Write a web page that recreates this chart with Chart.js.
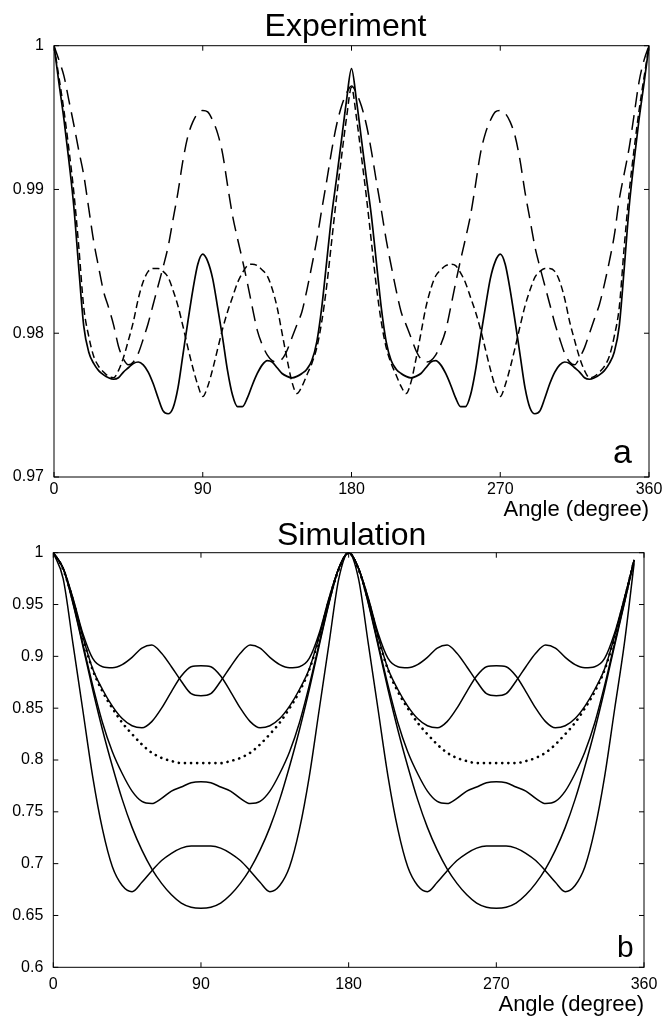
<!DOCTYPE html>
<html>
<head>
<meta charset="utf-8">
<script src="https://cdn.jsdelivr.net/npm/chart.js@4/dist/chart.umd.min.js"></script>
<style>
  body { margin: 0; background: #fff; }
  #wrap { position: relative; width: 667px; height: 1018px; }
  canvas { position: absolute; left: 0; }
</style>
</head>
<body>
<div id="wrap">
  <canvas id="exp" width="667" height="525" style="top:0"></canvas>
  <canvas id="sim" width="667" height="508" style="top:510px"></canvas>
</div>
<script>
// ---- panel a : Experiment ----
const expAngles = [0,3,6,9,12,15,18,21,24,27,30,33,36,39,42,45,48,51,54,57,60,63,66,69,72,75,78,81,84,87,
  90,93,96,99,102,105,108,111,114,117,120,123,126,129,132,135,138,141,144,147,150,153,156,159,162,165,168,171,174,177,
  180,183,186,189,192,195,198,201,204,207,210,213,216,219,222,225,228,231,234,237,240,243,246,249,252,255,258,261,264,267,
  270,273,276,279,282,285,288,291,294,297,300,303,306,309,312,315,318,321,324,327,330,333,336,339,342,345,348,351,354,357,360];

const expSolid = [1.0000,0.9974,0.9949,0.9920,0.9888,0.9845,0.9805,0.9787,0.9779,0.9774,0.9771,0.9769,0.9768,0.9769,0.9773,
  0.9776,0.9779,0.9780,0.9778,0.9773,0.9765,0.9755,0.9746,0.9744,0.9748,0.9762,0.9785,0.9808,0.9830,0.9848,
  0.9855,0.9850,0.9838,0.9818,0.9797,0.9774,0.9757,0.9749,0.9749,0.9755,0.9764,0.9772,0.9778,0.9781,0.9780,
  0.9776,0.9772,0.9770,0.9769,0.9770,0.9772,0.9775,0.9781,0.9794,0.9818,0.9850,0.9882,0.9908,0.9935,0.9962,
  0.9984,
  0.9962,0.9935,0.9908,0.9882,0.9850,0.9818,0.9794,0.9781,0.9775,0.9772,0.9770,0.9769,0.9770,0.9772,0.9776,
  0.9780,0.9781,0.9778,0.9772,0.9764,0.9755,0.9749,0.9749,0.9757,0.9774,0.9797,0.9818,0.9838,0.9850,0.9855,
  0.9848,0.9830,0.9808,0.9785,0.9762,0.9748,0.9744,0.9746,0.9755,0.9765,0.9773,0.9778,0.9780,0.9779,0.9776,
  0.9773,0.9769,0.9768,0.9769,0.9771,0.9774,0.9779,0.9787,0.9805,0.9845,0.9888,0.9920,0.9949,0.9974,1.0000];

const expShort = [1.0000,0.9978,0.9955,0.9928,0.9898,0.9860,0.9818,0.9798,0.9784,0.9777,0.9773,0.9770,0.9769,0.9774,0.9783,
  0.9795,0.9808,0.9824,0.9836,0.9843,0.9845,0.9845,0.9843,0.9839,0.9830,0.9819,0.9805,0.9790,0.9776,0.9764,
  0.9756,0.9763,0.9775,0.9789,0.9803,0.9815,0.9825,0.9835,0.9842,0.9847,0.9848,0.9847,0.9844,0.9840,0.9831,
  0.9818,0.9800,0.9782,0.9766,0.9758,0.9763,0.9771,0.9779,0.9790,0.9808,0.9833,0.9864,0.9895,0.9923,0.9950,
  0.9971,
  0.9950,0.9923,0.9895,0.9864,0.9833,0.9808,0.9790,0.9779,0.9771,0.9763,0.9758,0.9766,0.9782,0.9800,0.9818,
  0.9831,0.9840,0.9844,0.9847,0.9848,0.9847,0.9842,0.9835,0.9825,0.9815,0.9803,0.9789,0.9775,0.9763,0.9756,
  0.9764,0.9776,0.9790,0.9805,0.9819,0.9830,0.9839,0.9843,0.9845,0.9845,0.9843,0.9836,0.9824,0.9808,0.9795,
  0.9783,0.9774,0.9769,0.9770,0.9773,0.9777,0.9784,0.9798,0.9818,0.9860,0.9898,0.9928,0.9955,0.9978,1.0000];

const expLong = [1.0000,0.9990,0.9979,0.9962,0.9945,0.9927,0.9910,0.9887,0.9864,0.9846,0.9829,0.9818,0.9806,0.9791,0.9782,
  0.9778,0.9780,0.9786,0.9796,0.9807,0.9820,0.9833,0.9846,0.9860,0.9879,0.9898,0.9920,0.9937,0.9947,0.9953,
  0.9955,0.9954,0.9948,0.9939,0.9925,0.9903,0.9882,0.9866,0.9851,0.9835,0.9818,0.9802,0.9792,0.9785,0.9781,
  0.9780,0.9782,0.9788,0.9797,0.9806,0.9815,0.9830,0.9847,0.9865,0.9886,0.9906,0.9927,0.9945,0.9958,0.9967,
  0.9972,
  0.9967,0.9958,0.9945,0.9927,0.9906,0.9886,0.9865,0.9847,0.9830,0.9815,0.9806,0.9797,0.9788,0.9782,0.9780,
  0.9781,0.9785,0.9792,0.9802,0.9818,0.9835,0.9851,0.9866,0.9882,0.9903,0.9925,0.9939,0.9948,0.9954,0.9955,
  0.9953,0.9947,0.9937,0.9920,0.9898,0.9879,0.9860,0.9846,0.9833,0.9820,0.9807,0.9796,0.9786,0.9780,0.9778,
  0.9783,0.9790,0.9800,0.9810,0.9820,0.9834,0.9850,0.9868,0.9893,0.9911,0.9929,0.9952,0.9975,0.9990,1.0000];

// ---- panel b : Simulation ----
const simAngles = [0,6,12,18,24,30,36,42,48,54,60,66,72,78,84,90,96,102,108,114,120,126,132,138,144,150,156,162,168,174,
  180,186,192,198,204,210,216,222,228,234,240,246,252,258,264,270,276,282,288,294,300,306,312,318,324,330,336,342,348,354];

const simA = [1.000,0.985,0.956,0.922,0.898,0.890,0.889,0.892,0.899,0.908,0.911,0.903,0.890,0.876,0.864,0.862,
  0.864,0.876,0.890,0.903,0.911,0.908,0.899,0.892,0.889,0.890,0.898,0.922,0.956,0.985,1.000,
  0.985,0.956,0.922,0.898,0.890,0.889,0.892,0.899,0.908,0.911,0.903,0.890,0.876,0.864,0.862,
  0.864,0.876,0.890,0.903,0.911,0.908,0.899,0.892,0.889,0.890,0.898,0.922,0.956,0.993];

const simB = [1.000,0.985,0.955,0.919,0.888,0.868,0.852,0.840,0.833,0.831,0.837,0.850,0.866,0.881,0.890,0.891,
  0.890,0.881,0.866,0.850,0.837,0.831,0.833,0.840,0.852,0.868,0.888,0.919,0.955,0.985,1.000,
  0.985,0.955,0.919,0.888,0.868,0.852,0.840,0.833,0.831,0.837,0.850,0.866,0.881,0.890,0.891,
  0.890,0.881,0.866,0.850,0.837,0.831,0.833,0.840,0.852,0.868,0.888,0.919,0.955,0.993];

const simDot = [1.000,0.984,0.954,0.918,0.887,0.866,0.850,0.836,0.825,0.815,0.807,0.802,0.799,0.797,0.797,0.797,
  0.797,0.797,0.799,0.802,0.807,0.815,0.825,0.836,0.850,0.866,0.887,0.918,0.954,0.984,1.000,
  0.984,0.954,0.918,0.887,0.866,0.850,0.836,0.825,0.815,0.807,0.802,0.799,0.797,0.797,0.797,
  0.797,0.797,0.799,0.802,0.807,0.815,0.825,0.836,0.850,0.866,0.887,0.918,0.954,0.993];

const simC = [1.000,0.985,0.952,0.912,0.872,0.836,0.808,0.787,0.770,0.760,0.758,0.763,0.770,0.774,0.778,0.779,
  0.778,0.774,0.770,0.763,0.758,0.760,0.770,0.787,0.808,0.836,0.872,0.912,0.952,0.985,1.000,
  0.985,0.952,0.912,0.872,0.836,0.808,0.787,0.770,0.760,0.758,0.763,0.770,0.774,0.778,0.779,
  0.778,0.774,0.770,0.763,0.758,0.760,0.770,0.787,0.808,0.836,0.872,0.912,0.952,0.993];

const simD = [1.000,0.985,0.951,0.910,0.868,0.829,0.794,0.762,0.735,0.713,0.695,0.681,0.670,0.662,0.658,0.657,
  0.658,0.662,0.670,0.681,0.695,0.713,0.735,0.762,0.794,0.829,0.868,0.910,0.951,0.985,1.000,
  0.985,0.951,0.910,0.868,0.829,0.794,0.762,0.735,0.713,0.695,0.681,0.670,0.662,0.658,0.657,
  0.658,0.662,0.670,0.681,0.695,0.713,0.735,0.762,0.794,0.829,0.868,0.910,0.951,0.993];

const simE = [1.000,0.975,0.912,0.848,0.784,0.733,0.697,0.679,0.673,0.682,0.693,0.703,0.710,0.715,0.717,0.717,
  0.717,0.715,0.710,0.703,0.693,0.682,0.673,0.679,0.697,0.733,0.784,0.848,0.912,0.975,1.000,
  0.975,0.912,0.848,0.784,0.733,0.697,0.679,0.673,0.682,0.693,0.703,0.710,0.715,0.717,0.717,
  0.717,0.715,0.710,0.703,0.693,0.682,0.673,0.679,0.697,0.733,0.784,0.848,0.912,0.990];

Chart.defaults.font.family = '"Liberation Sans", Arial, Helvetica, sans-serif';
Chart.defaults.color = '#000';

const pts = (xs, ys) => xs.map((x, i) => ({x: x, y: ys[i]}));
const fmt = v => String(+Number(v).toFixed(2));

// box, inward ticks on all four sides, panel title and letter
const panelDeco = {
  id: 'panelDeco',
  afterDraw(chart, args, o) {
    const {ctx, chartArea: a, scales: {x, y}} = chart;
    ctx.save();
    ctx.strokeStyle = '#000';
    ctx.lineWidth = 1;
    ctx.strokeRect(a.left, a.top, a.right - a.left, a.bottom - a.top);
    ctx.beginPath();
    x.ticks.forEach(t => {
      const p = x.getPixelForValue(t.value);
      ctx.moveTo(p, a.bottom); ctx.lineTo(p, a.bottom - 5);
      ctx.moveTo(p, a.top); ctx.lineTo(p, a.top + 5);
    });
    y.ticks.forEach(t => {
      const p = y.getPixelForValue(t.value);
      ctx.moveTo(a.left, p); ctx.lineTo(a.left + 5, p);
      ctx.moveTo(a.right, p); ctx.lineTo(a.right - 5, p);
    });
    ctx.stroke();
    ctx.fillStyle = '#000';
    ctx.textBaseline = 'alphabetic';
    ctx.textAlign = 'center';
    ctx.font = '32px "Liberation Sans", Arial, sans-serif';
    ctx.fillText(o.title, o.titleX, o.titleY);
    ctx.textAlign = 'left';
    ctx.font = o.tagSize + 'px "Liberation Sans", Arial, sans-serif';
    ctx.fillText(o.tag, a.right - o.tagDx, a.bottom - o.tagDy);
    ctx.restore();
  }
};

function makePanel(id, p) {
  return new Chart(document.getElementById(id), {
    type: 'line',
    data: {datasets: p.datasets},
    options: {
      responsive: false,
      animation: false,
      layout: {padding: p.pad},
      elements: {
        point: {radius: 0},
        line: {tension: 0.3, cubicInterpolationMode: 'monotone', borderWidth: 1.5}
      },
      plugins: {legend: {display: false}, tooltip: {enabled: false}, panelDeco: p.deco},
      scales: {
        x: {
          type: 'linear', min: 0, max: 360,
          afterFit: s => { s.height = p.xh; },
          ticks: {stepSize: 90, padding: p.xpad, maxRotation: 0, font: {size: 16}, color: '#000'},
          grid: {display: false, drawTicks: false},
          border: {display: false},
          title: {display: true, text: 'Angle (degree)', align: 'end', padding: 0, font: {size: 22}, color: '#000'}
        },
        y: {
          type: 'linear', min: p.ymin, max: 1,
          afterFit: s => { s.width = p.yw; },
          ticks: {stepSize: p.ystep, padding: 10, font: {size: 16}, color: '#000', callback: fmt},
          grid: {display: false, drawTicks: false},
          border: {display: false}
        }
      }
    },
    plugins: [panelDeco]
  });
}

const line = (xs, ys, extra) => Object.assign({data: pts(xs, ys), borderColor: '#000', fill: false}, extra || {});

makePanel('exp', {
  pad: {left: 0, top: 45.7, right: 18, bottom: 1.8},
  xh: 46.2, xpad: 3, yw: 54, ymin: 0.97, ystep: 0.01,
  deco: {title: 'Experiment', titleX: 345.5, titleY: 36, tag: 'a', tagSize: 34, tagDx: 36, tagDy: 14},
  datasets: [
    line(expAngles, expSolid, {borderWidth: 1.7}),
    line(expAngles, expShort, {borderDash: [7, 4]}),
    line(expAngles, expLong, {borderDash: [15, 8]})
  ]
});

makePanel('sim', {
  pad: {left: 0, top: 42.7, right: 23, bottom: 0},
  xh: 50.7, xpad: 8, yw: 53.3, ymin: 0.6, ystep: 0.05,
  deco: {title: 'Simulation', titleX: 351.7, titleY: 35, tag: 'b', tagSize: 30, tagDx: 27, tagDy: 10},
  datasets: [
    line(simAngles, simA),
    line(simAngles, simB),
    line(simAngles, simDot, {borderDash: [0.1, 6], borderCapStyle: 'round', borderWidth: 2.6}),
    line(simAngles, simC),
    line(simAngles, simD),
    line(simAngles, simE)
  ]
});
</script>
</body>
</html>
